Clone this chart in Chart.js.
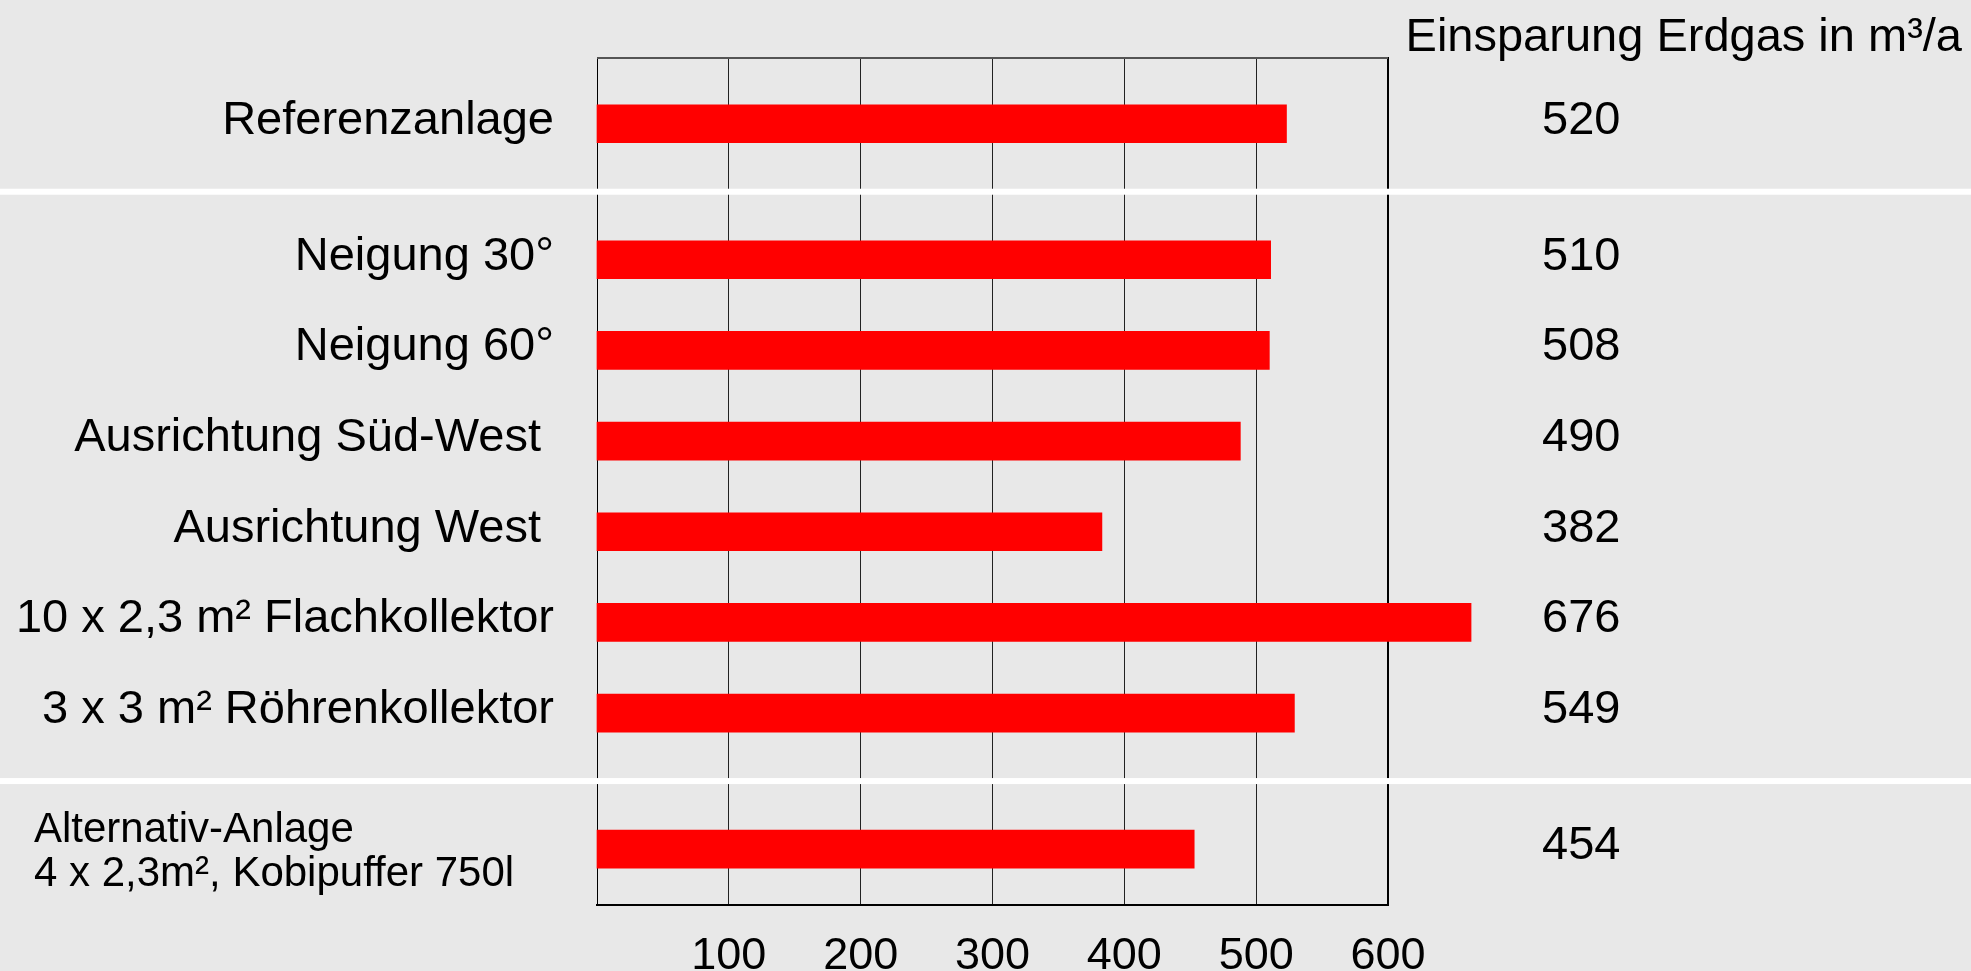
<!DOCTYPE html>
<html>
<head>
<meta charset="utf-8">
<script src="https://cdn.jsdelivr.net/npm/chart.js@4.4.1/dist/chart.umd.min.js"></script>
<style>
  html, body { margin: 0; padding: 0; background: #e8e8e8; overflow: hidden; }
  #wrap { width: 1971px; height: 971px; position: relative; }
</style>
</head>
<body>
<div id="wrap"><canvas id="c"></canvas></div>
<script>
// ---- data ----
const categories = [
  'Referenzanlage',
  'Neigung 30°',
  'Neigung 60°',
  'Ausrichtung Süd-West ',
  'Ausrichtung West ',
  '10 x 2,3 m² Flachkollektor',
  '3 x 3 m² Röhrenkollektor',
  ['Alternativ-Anlage', '4 x 2,3m², Kobipuffer 750l']
];
const groups = [0, 1, 1, 1, 1, 1, 1, 2];
const barValues = [523, 511, 510, 488, 383, 663, 529, 453];      // bar lengths as drawn
const printedValues = [520, 510, 508, 490, 382, 676, 549, 454];  // numbers printed at right
const xTicks = [100, 200, 300, 400, 500, 600];
const headerText = 'Einsparung Erdgas in m³/a';

// ---- layout helpers ----
const FONT = 'Liberation Sans, Arial, Helvetica, sans-serif';
const GROUP_GAP = 0.5;
const rowPos = groups.map((g, i) => i + GROUP_GAP * g);
const Y_MIN = -0.725, Y_MAX = 8.617;

const annot = {
  id: 'annot',
  afterDatasetsDraw(chart) {
    const { ctx, chartArea, scales: { y } } = chart;
    ctx.save();
    // top frame line
    ctx.strokeStyle = '#555';
    ctx.lineWidth = 2;
    ctx.beginPath();
    ctx.moveTo(chartArea.left, chartArea.top);
    ctx.lineTo(chartArea.right, chartArea.top);
    ctx.stroke();
    // white separators between groups
    ctx.fillStyle = '#ffffff';
    for (let i = 1; i < groups.length; i++) {
      if (groups[i] !== groups[i - 1]) {
        const yy = y.getPixelForValue((rowPos[i - 1] + rowPos[i]) / 2);
        ctx.fillRect(0, yy - 3, chart.width, 6);
      }
    }
    // multi-line (left aligned) labels
    ctx.fillStyle = '#000';
    ctx.font = '42px ' + FONT;
    ctx.textAlign = 'left';
    ctx.textBaseline = 'alphabetic';
    categories.forEach((c, i) => {
      if (Array.isArray(c)) {
        const py = y.getPixelForValue(rowPos[i]);
        c.forEach((line, k) => ctx.fillText(line, 34, py - 7 + k * 44));
      }
    });
    ctx.restore();
  }
};

new Chart(document.getElementById('c'), {
  type: 'bar',
  data: {
    datasets: [{
      data: barValues.map((v, i) => ({ x: v, y: rowPos[i] })),
      backgroundColor: '#ff0000',
      borderWidth: 0,
      barThickness: 38,
      clip: false
    }]
  },
  options: {
    indexAxis: 'y',
    responsive: true,
    maintainAspectRatio: false,
    animation: false,
    layout: { padding: { left: 0, right: 9, top: 0, bottom: 0 } },
    plugins: {
      legend: { display: false },
      tooltip: { enabled: false },
      title: {
        display: true,
        text: headerText,
        align: 'end',
        color: '#000',
        font: { family: FONT, size: 47, weight: 'normal', lineHeight: '40px' },
        padding: { top: 18, bottom: 0 }
      }
    },
    scales: {
      x: {
        type: 'linear',
        position: 'bottom',
        min: 0,
        max: 600,
        offset: false,
        afterBuildTicks: s => { s.ticks = xTicks.map(v => ({ value: v })); },
        afterFit: s => { s.height = 66; },
        grid: { color: '#222', lineWidth: 1, drawTicks: false, offset: false },
        border: { display: true, color: '#000', width: 2 },
        ticks: { font: { family: FONT, size: 45 }, color: '#000', padding: 25, maxRotation: 0, autoSkip: false }
      },
      y: {
        type: 'linear',
        position: 'left',
        reverse: true,
        min: Y_MIN,
        max: Y_MAX,
        offset: false,
        afterBuildTicks: s => { s.ticks = rowPos.map(v => ({ value: v })); },
        afterFit: s => { s.width = 597; },
        grid: { display: false, drawTicks: true, tickLength: 43, offset: false },
        border: { display: true, color: '#000', width: 1 },
        ticks: {
          autoSkip: false, padding: 0, labelOffset: -3,
          font: { family: FONT, size: 47 }, color: '#000',
          callback: (v, i) => Array.isArray(categories[i]) ? '' : categories[i]
        }
      },
      y2: {
        type: 'linear',
        position: 'right',
        reverse: true,
        min: Y_MIN,
        max: Y_MAX,
        offset: false,
        afterBuildTicks: s => { s.ticks = rowPos.map(v => ({ value: v })); },
        afterFit: s => { s.width = 574; },
        grid: { display: false, drawTicks: true, tickLength: 154, offset: false },
        border: { display: true, color: '#000', width: 2 },
        ticks: {
          autoSkip: false, padding: 0, crossAlign: 'center', labelOffset: -3,
          font: { family: FONT, size: 47 }, color: '#000',
          callback: (v, i) => String(printedValues[i])
        }
      }
    }
  },
  plugins: [annot]
});
</script>
</body>
</html>
